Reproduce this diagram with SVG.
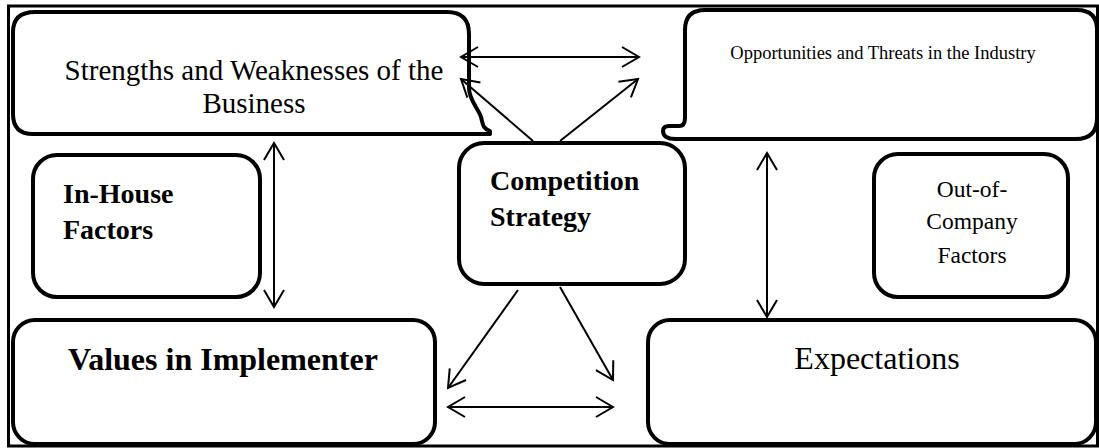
<svg xmlns="http://www.w3.org/2000/svg" width="1099" height="448" viewBox="0 0 1099 448">
  <style>
    .box { fill: #ffffff; stroke: #000000; stroke-width: 4; stroke-linejoin: round; }
    .frame { fill: #ffffff; stroke: #000000; stroke-width: 3; }
    .link { stroke: #000000; stroke-width: 2; fill: none; }
    .serif { font-family: "Liberation Serif", "Times New Roman", serif; fill: #000000; }
    .bold { font-weight: bold; }
  </style>
  <defs>
    <!-- open V arrowhead, tip at the line end -->
    <marker id="vhead" viewBox="-20 -12 24 24" refX="0" refY="0" markerWidth="24" markerHeight="24" markerUnits="userSpaceOnUse" orient="auto-start-reverse">
      <path d="M -17 -10 L 0 0 L -17 10" fill="none" stroke="#000000" stroke-width="2"/>
    </marker>
  </defs>

  <!-- outer frame -->
  <rect class="frame" x="8.5" y="6" width="1089" height="440"/>

  <g id="strengths-weaknesses">
    <path class="box" d="M 35 12 H 447 Q 469 12 469 34 V 88 C 469 100 478 108 481 117 C 483 124 482 128 490 131 L 490 134 H 33 Q 13 134 13 114 V 32 Q 13 12 35 12 Z"/>
    <text class="serif" x="254" y="80" font-size="29" text-anchor="middle">Strengths and Weaknesses of the</text>
    <text class="serif" x="254" y="113" font-size="29" text-anchor="middle">Business</text>
  </g>

  <g id="opportunities-threats">
    <path class="box" d="M 705 10 H 1077 Q 1097 10 1097 30 V 118 Q 1097 139 1076 139 H 676 Q 663 139 663 131 Q 663 126 669 126 H 679 Q 685 126 685 118 V 30 Q 685 10 705 10 Z"/>
    <text class="serif" x="883" y="59" font-size="18.5" text-anchor="middle">Opportunities and Threats in the Industry</text>
  </g>

  <g id="in-house-factors">
    <rect class="box" x="33" y="155" width="227" height="142" rx="24"/>
    <text class="serif bold" x="63" y="203" font-size="28">In-House</text>
    <text class="serif bold" x="63" y="239" font-size="28">Factors</text>
  </g>

  <g id="competition-strategy">
    <rect class="box" x="459" y="143" width="226" height="141" rx="25"/>
    <text class="serif bold" x="490" y="190" font-size="28">Competition</text>
    <text class="serif bold" x="490" y="226" font-size="28">Strategy</text>
  </g>

  <g id="out-of-company-factors">
    <rect class="box" x="874" y="154" width="194" height="143" rx="24"/>
    <text class="serif" x="972" y="197" font-size="23.5" text-anchor="middle">Out-of-</text>
    <text class="serif" x="972" y="229" font-size="23.5" text-anchor="middle">Company</text>
    <text class="serif" x="972" y="263" font-size="23.5" text-anchor="middle">Factors</text>
  </g>

  <g id="values-implementer">
    <rect class="box" x="13" y="320" width="422" height="124" rx="22"/>
    <text class="serif bold" x="68" y="370" font-size="32">Values in Implementer</text>
  </g>

  <g id="expectations">
    <rect class="box" x="648" y="320" width="448" height="124" rx="22"/>
    <text class="serif" x="877" y="369" font-size="32" text-anchor="middle">Expectations</text>
  </g>

  <g id="connectors">
    <line class="link" x1="461" y1="57" x2="639" y2="57" marker-start="url(#vhead)" marker-end="url(#vhead)"/>
    <line class="link" x1="533" y1="141" x2="461" y2="79" marker-end="url(#vhead)"/>
    <line class="link" x1="560" y1="141" x2="638" y2="79" marker-end="url(#vhead)"/>
    <line class="link" x1="274" y1="143" x2="274" y2="307" marker-start="url(#vhead)" marker-end="url(#vhead)"/>
    <line class="link" x1="767" y1="153" x2="767" y2="317" marker-start="url(#vhead)" marker-end="url(#vhead)"/>
    <line class="link" x1="518" y1="290" x2="448" y2="388" marker-end="url(#vhead)"/>
    <line class="link" x1="560" y1="287" x2="613" y2="380" marker-end="url(#vhead)"/>
    <line class="link" x1="448" y1="407" x2="613" y2="407" marker-start="url(#vhead)" marker-end="url(#vhead)"/>
  </g>
</svg>
